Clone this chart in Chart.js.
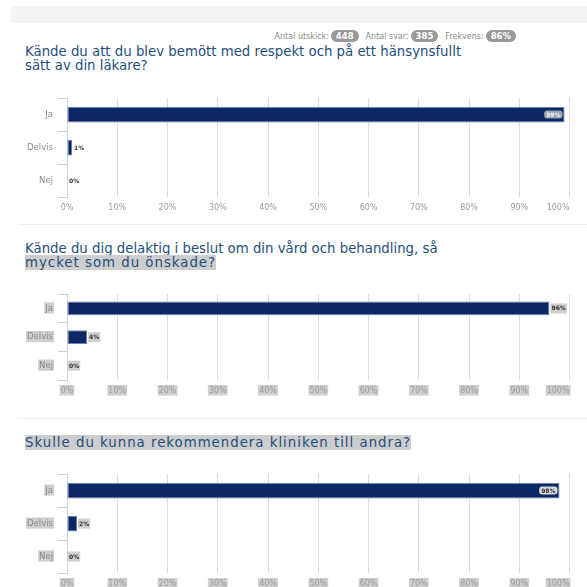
<!DOCTYPE html>
<html>
<head>
<meta charset="utf-8">
<script src="https://cdn.jsdelivr.net/npm/chart.js@4/dist/chart.umd.min.js"></script>
<style>
html,body{margin:0;padding:0;background:#fff;width:587px;height:587px;overflow:hidden;position:relative;font-family:"DejaVu Sans",sans-serif;}
.band{position:absolute;left:11px;top:6px;width:576px;height:17px;background:#f4f4f4;}
.sep{position:absolute;left:18px;width:569px;height:1px;background:#eeeeee;}
.stats{position:absolute;top:30px;right:71px;display:flex;align-items:center;font-size:8px;color:#8a8a8a;white-space:nowrap;}
.stats .pill{display:inline-block;background:#999;color:#fff;font-weight:bold;border-radius:6px;padding:1px 5px;margin:0 7px 0 2px;font-size:8.5px;line-height:10px;}
.stats .pill.last{margin-right:0;}
.title{position:absolute;left:25px;font-size:13.3px;line-height:14px;color:#1f4f7d;white-space:nowrap;}
.hl{background:#cdcdcd;letter-spacing:1px;}
canvas{position:absolute;left:0;}
</style>
</head>
<body>
<div class="band"></div>
<div class="stats">Antal utskick:<span class="pill">448</span>Antal svar:<span class="pill">385</span>Frekvens:<span class="pill last">86%</span></div>

<div class="title" style="top:45px;">Kände du att du blev bemött med respekt och på ett hänsynsfullt<br>sätt av din läkare?</div>
<div class="sep" style="top:224px;"></div>
<div class="title" style="top:242px;">Kände du dig delaktig i beslut om din vård och behandling, så<br><span class="hl">mycket som du önskade?</span></div>
<div class="sep" style="top:418px;"></div>
<div class="title" style="top:436px;"><span class="hl">Skulle du kunna rekommendera kliniken till andra?</span></div>

<canvas id="c1" width="587" height="127" style="top:88px;width:587px;height:127px;"></canvas>
<canvas id="c2" width="587" height="114" style="top:284px;width:587px;height:114px;"></canvas>
<canvas id="c3" width="587" height="127" style="top:464px;width:587px;height:127px;"></canvas>

<script>
const categories = ["Ja", "Delvis", "Nej"];
const respektValues = [99, 1, 0];
const delaktigValues = [96, 4, 0];
const rekommenderaValues = [98, 2, 0];
const xTicks = [0, 10, 20, 30, 40, 50, 60, 70, 80, 90, 100];

const BAR = '#0c2765';

const valueLabels = {
  id: 'valueLabels',
  beforeDraw(chart) {
    // keep the last x label inside the plot (justified like the original)
    const scale = chart.scales.x;
    const items = scale.getLabelItems();
    if (!items.length) return;
    const last = items[items.length - 1];
    if (last._shifted) return;
    const ctx = chart.ctx;
    ctx.save();
    ctx.font = last.font.string;
    const w = ctx.measureText(String(last.label)).width;
    ctx.restore();
    last.options.translation[0] -= w / 2;
    last._shifted = true;
  },
  afterDatasetsDraw(chart, args, opts) {
    const ctx = chart.ctx;
    const meta = chart.getDatasetMeta(0);
    const data = chart.data.datasets[0].data;
    ctx.save();
    ctx.font = 'bold 6px "DejaVu Sans"';
    ctx.textBaseline = 'middle';
    meta.data.forEach((bar, i) => {
      const txt = data[i] + '%';
      const w = ctx.measureText(txt).width;
      const inside = (i === 0 && opts.firstInside);
      if (inside) {
        const x = bar.x - 4 - w;
        ctx.fillStyle = opts.insideBox;
        ctx.beginPath();
        if (ctx.roundRect) ctx.roundRect(x - 2, bar.y - 4, w + 4, 8, 3); else ctx.rect(x - 2, bar.y - 4, w + 4, 8);
        ctx.fill();
        ctx.fillStyle = opts.insideText;
        ctx.fillText(txt, x, bar.y + 0.5);
      } else {
        const x = bar.x + 2;
        if (opts.highlight) {
          ctx.fillStyle = '#cfcfcf';
          ctx.fillRect(x - 1, bar.y - 5, w + 2, 10);
        }
        ctx.fillStyle = '#333';
        ctx.fillText(txt, x, bar.y + 0.5);
      }
    });
    ctx.restore();
  }
};

function makeChart(id, values, hl, firstInside, insideBox, insideText) {
  const backdrop = {
    showLabelBackdrop: hl,
    backdropColor: '#cfcfcf',
    backdropPadding: { top: 1, bottom: 0, left: 1, right: 1 }
  };
  return new Chart(document.getElementById(id), {
    type: 'bar',
    data: {
      labels: categories,
      datasets: [{
        data: values,
        backgroundColor: BAR,
        borderColor: '#6f7fa3',
        borderWidth: 1,
        borderSkipped: false,
        barPercentage: 0.48,
        categoryPercentage: 1
      }]
    },
    options: {
      indexAxis: 'y',
      responsive: false,
      animation: false,
      events: [],
      layout: { padding: { top: 4, right: 16, left: 0, bottom: 0 } },
      plugins: {
        legend: { display: false },
        tooltip: { enabled: false },
        valueLabels: { firstInside, highlight: hl, insideBox, insideText }
      },
      scales: {
        x: {
          min: 0, max: 100,
          afterBuildTicks(scale) { scale.ticks = xTicks.map(v => ({ value: v })); },
          afterFit(scale) { scale.height = 18; },
          border: { display: false },
          grid: { color: '#dcdcdc', lineWidth: 1, drawTicks: false },
          ticks: Object.assign({
            color: '#9a9a9a',
            font: { family: 'DejaVu Sans', size: 8 },
            padding: 6,
            maxRotation: 0,
            autoSkip: false,
            callback: v => v + '%'
          }, backdrop)
        },
        y: {
          afterFit(scale) { scale.width = 67; },
          border: { display: true, color: '#c6d3e2', width: 1 },
          grid: { drawOnChartArea: false, drawTicks: true, tickLength: 9, color: '#c6d3e2', offset: true },
          ticks: Object.assign({
            color: '#8a8a8a',
            font: { family: 'DejaVu Sans', size: 8.5 },
            padding: 5
          }, backdrop)
        }
      }
    },
    plugins: [valueLabels]
  });
}

makeChart('c1', respektValues, false, true, 'rgba(170,176,190,0.9)', '#f2f2f2');
makeChart('c2', delaktigValues, true, false, '', '');
makeChart('c3', rekommenderaValues, true, true, 'rgba(225,225,228,0.95)', '#333');
</script>
</body>
</html>
